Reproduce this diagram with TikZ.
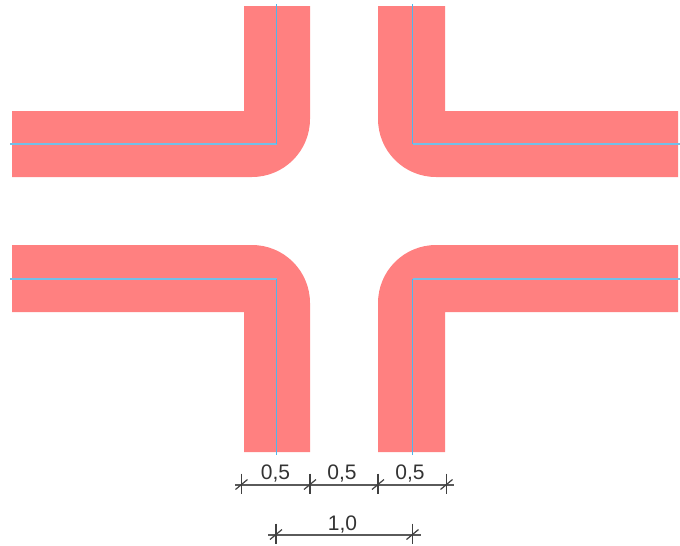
\documentclass[tikz,border=0pt]{standalone}
\usepackage{fontspec}
\setmainfont{Liberation Sans}
\definecolor{road}{HTML}{FF8080}
\definecolor{axisline}{HTML}{4FB6EC}
\definecolor{axislight}{HTML}{74BFE8}
\definecolor{dimline}{HTML}{5A5A5A}
\tikzset{
  road/.style={fill=road,draw=none},
  axisv/.style={draw=axisline,line width=1.6pt},
  axish/.style={draw=axislight,line width=2.5pt},
  dimension/.style={draw=dimline,line width=2pt},
  dimtick/.style={draw=black!75,line width=1.2pt},
  dimlabel/.style={font=\fontsize{21pt}{21pt}\selectfont,inner sep=0pt,anchor=base,text=black!80}
}
\newcommand{\roundradius}{58pt}
\newcommand{\dimtickmark}[2]{%
  \draw[dimtick] (#1,#2-11) -- (#1,#2+9);
  \draw[dimtick] (#1-6,#2+5) -- (#1+6,#2-5);
}

\begin{document}
\begin{tikzpicture}[x=1pt,y=-1pt]
\useasboundingbox (0,0) rectangle (680,546);

% top left
\path[road] (12,111) -- (244,111) -- (244,6) -- (310,6) [rounded corners=\roundradius] -- (310,177) [sharp corners] -- (12,177) -- cycle;
% top right
\path[road] (678,111) -- (445,111) -- (445,6) -- (378,6) [rounded corners=\roundradius] -- (378,177) [sharp corners] -- (678,177) -- cycle;
% bottom left
\path[road] (12,312) -- (244,312) -- (244,452) -- (310,452) [rounded corners=\roundradius] -- (310,245) [sharp corners] -- (12,245) -- cycle;
% bottom right
\path[road] (678,312) -- (445,312) -- (445,452) -- (378,452) [rounded corners=\roundradius] -- (378,245) [sharp corners] -- (678,245) -- cycle;

\draw[axish] (10,144) -- (277,144);
\draw[axisv] (276.5,144) -- (276.5,4);
\draw[axish] (680,144) -- (412.5,144);
\draw[axisv] (412.5,144) -- (412.5,4);
\draw[axish] (10,279) -- (277,279);
\draw[axisv] (276.5,279) -- (276.5,455);
\draw[axish] (680,279) -- (412.5,279);
\draw[axisv] (412.5,279) -- (412.5,455);

% dimensions
\coordinate (chainstart) at (235,484.5);
\coordinate (chainend) at (454,484.5);
\coordinate (widthstart) at (268,534.5);
\coordinate (widthend) at (421,534.5);
\draw[dimension] (chainstart) -- (chainend);
\draw[dimension] (widthstart) -- (widthend);

\foreach \tickx in {241.5,310,378,446.5} {
  \dimtickmark{\tickx}{484.5}
}
\dimtickmark{276}{534.5}
\dimtickmark{412.5}{534.5}

\node[dimlabel] (laneleft) at (275.5,479) {0,5};
\node[dimlabel] (lanegap) at (342,479) {0,5};
\node[dimlabel] (laneright) at (410,479) {0,5};
\node[dimlabel] (lanewidth) at (342.5,530) {1,0};

\end{tikzpicture}
\end{document}
